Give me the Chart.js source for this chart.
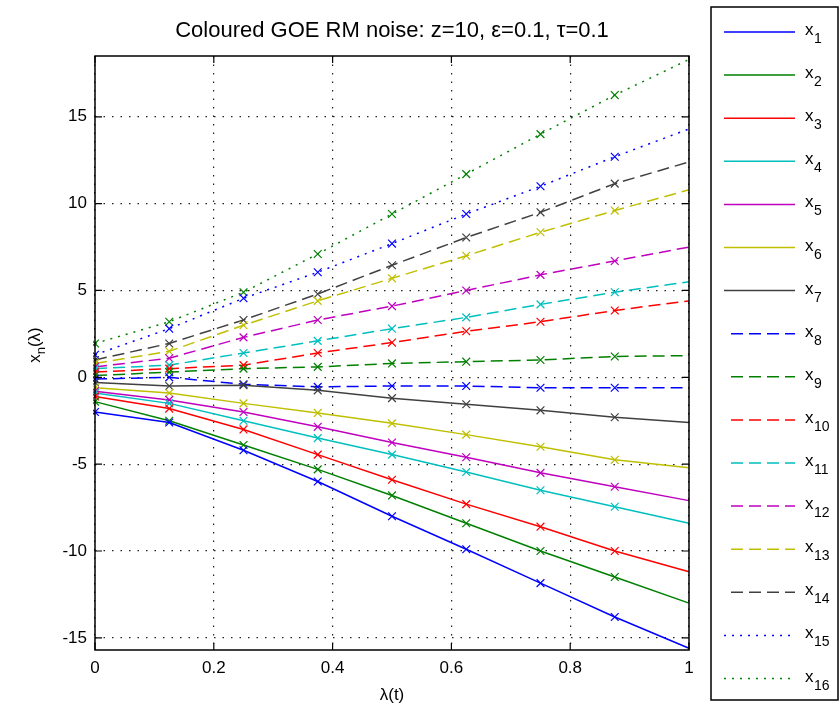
<!DOCTYPE html>
<html lang="en">
<head>
    <meta charset="UTF-8">
    <title>Coloured GOE RM noise</title>
    <script src="https://cdn.jsdelivr.net/npm/chart.js"></script>
    <style>
        html, body { margin: 0; padding: 0; background: #fff; }
        #plot { display: block; }
    </style>
</head>
<body>
    <canvas id="plot" width="840" height="716"></canvas>

    <script>
        // time steps lambda(t), markers sit on all but the last one
        const tSteps = [0, 0.125, 0.25, 0.375, 0.5, 0.625, 0.75, 0.875, 1];

        // eigenvalue paths
        const x1  = [-2.0, -2.6, -4.2, -6.0, -8.0, -9.9, -11.85, -13.8, -15.6];
        const x2  = [-1.4, -2.5, -3.9, -5.3, -6.8, -8.4, -10.0, -11.5, -13.0];
        const x3  = [-1.1, -1.8, -3.0, -4.45, -5.9, -7.3, -8.6, -10.0, -11.2];
        const x4  = [-0.9, -1.5, -2.5, -3.5, -4.45, -5.45, -6.5, -7.45, -8.4];
        const x5  = [-0.8, -1.3, -2.0, -2.85, -3.75, -4.6, -5.5, -6.3, -7.1];
        const x6  = [-0.6, -0.9, -1.5, -2.05, -2.65, -3.3, -4.0, -4.75, -5.2];
        const x7  = [-0.3, -0.5, -0.45, -0.75, -1.2, -1.55, -1.9, -2.3, -2.6];
        const x8  = [-0.1, 0.0, -0.4, -0.55, -0.5, -0.5, -0.6, -0.6, -0.6];
        const x9  = [0.1, 0.3, 0.5, 0.6, 0.8, 0.9, 1.0, 1.2, 1.25];
        const x10 = [0.3, 0.5, 0.7, 1.4, 2.0, 2.65, 3.2, 3.85, 4.4];
        const x11 = [0.5, 0.7, 1.4, 2.1, 2.8, 3.45, 4.2, 4.9, 5.5];
        const x12 = [0.6, 1.1, 2.3, 3.3, 4.1, 5.0, 5.9, 6.7, 7.5];
        const x13 = [0.8, 1.5, 3.0, 4.4, 5.7, 7.0, 8.35, 9.6, 10.8];
        const x14 = [1.0, 1.95, 3.3, 4.8, 6.45, 8.05, 9.5, 11.15, 12.4];
        const x15 = [1.3, 2.8, 4.55, 6.05, 7.7, 9.4, 11.0, 12.7, 14.3];
        const x16 = [1.95, 3.2, 4.9, 7.1, 9.4, 11.7, 14.0, 16.25, 18.3];

        const seriesValues = [x1, x2, x3, x4, x5, x6, x7, x8, x9, x10, x11, x12, x13, x14, x15, x16];
        const seriesNames = seriesValues.map((v, i) => String(i + 1));

        const xTicks = [0, 0.2, 0.4, 0.6, 0.8, 1];
        const yTicks = [-15, -10, -5, 0, 5, 10, 15];

        // matlab colour order, then line style solid / dashed / dotted
        const palette = ['#0000ff', '#008000', '#ff0000', '#00bfbf', '#bf00bf', '#bfbf00', '#404040'];
        function styleFor(i) {
            if (i < 7) return { color: palette[i], dash: [] };
            if (i < 14) return { color: palette[i - 7], dash: [12, 6] };
            return { color: palette[i - 14], dash: [2, 6] };
        }

        const datasets = seriesValues.map((vals, i) => {
            const st = styleFor(i);
            return {
                label: 'x' + seriesNames[i],
                data: tSteps.map((t, k) => ({ x: t, y: vals[k] })),
                borderColor: st.color,
                backgroundColor: st.color,
                borderWidth: 1.5,
                borderDash: st.dash,
                tension: 0,
                fill: false,
                pointStyle: 'crossRot',
                pointRadius: ctx => (ctx.dataIndex < tSteps.length - 1 ? 5.5 : 0),
                pointBorderColor: st.color,
                pointBorderWidth: 1.2,
                clip: 2
            };
        });

        const FONT = '"Liberation Sans", Arial, sans-serif';

        // frame, inner ticks, title, axis labels and the boxed legend
        const matlabFrame = {
            id: 'matlabFrame',
            afterDraw(chart) {
                const ctx = chart.ctx;
                const a = chart.chartArea;
                const sx = chart.scales.x, sy = chart.scales.y;
                ctx.save();
                ctx.strokeStyle = '#000';
                ctx.lineWidth = 1.5;
                ctx.setLineDash([]);
                ctx.strokeRect(a.left, a.top, a.right - a.left, a.bottom - a.top);

                ctx.lineWidth = 1.2;
                ctx.beginPath();
                xTicks.forEach(v => {
                    const px = sx.getPixelForValue(v);
                    ctx.moveTo(px, a.bottom); ctx.lineTo(px, a.bottom - 7);
                    ctx.moveTo(px, a.top); ctx.lineTo(px, a.top + 7);
                });
                yTicks.forEach(v => {
                    const py = sy.getPixelForValue(v);
                    ctx.moveTo(a.left, py); ctx.lineTo(a.left + 7, py);
                    ctx.moveTo(a.right, py); ctx.lineTo(a.right - 7, py);
                });
                ctx.stroke();

                ctx.fillStyle = '#000';
                ctx.textAlign = 'center';
                ctx.textBaseline = 'middle';
                ctx.font = '22px ' + FONT;
                ctx.fillText('Coloured GOE RM noise: z=10, \u03b5=0.1, \u03c4=0.1', (a.left + a.right) / 2, 31);

                // x label
                ctx.font = '17px ' + FONT;
                ctx.fillText('\u03bb(t)', (a.left + a.right) / 2, 695);

                // y label x_n(lambda), rotated
                ctx.save();
                ctx.translate(34, 345);
                ctx.rotate(-Math.PI / 2);
                ctx.textAlign = 'left';
                ctx.textBaseline = 'alphabetic';
                const w1 = ctx.measureText('x').width;
                ctx.font = '13px ' + FONT;
                const w2 = ctx.measureText('n').width;
                ctx.font = '17px ' + FONT;
                const w3 = ctx.measureText('(\u03bb)').width;
                let start = -(w1 + w2 + w3) / 2;
                ctx.fillText('x', start, 6);
                ctx.font = '13px ' + FONT;
                ctx.fillText('n', start + w1, 11);
                ctx.font = '17px ' + FONT;
                ctx.fillText('(\u03bb)', start + w1 + w2, 6);
                ctx.restore();

                // legend box
                const lx = 711, ly = 7, lw = 127, lh = 693;
                ctx.lineWidth = 1.5;
                ctx.strokeRect(lx, ly, lw, lh);
                chart.data.datasets.forEach((ds, i) => {
                    const y = 32 + i * 43.1;
                    ctx.strokeStyle = ds.borderColor;
                    ctx.lineWidth = 1.5;
                    ctx.setLineDash(ds.borderDash);
                    ctx.beginPath();
                    ctx.moveTo(ds.borderDash.length && ds.borderDash[0] > 4 ? 731 : 724, y);
                    ctx.lineTo(795, y);
                    ctx.stroke();
                    ctx.setLineDash([]);
                    ctx.fillStyle = '#000';
                    ctx.textAlign = 'left';
                    ctx.textBaseline = 'alphabetic';
                    ctx.font = '17px ' + FONT;
                    ctx.fillText('x', 805, y + 3);
                    ctx.font = '14px ' + FONT;
                    ctx.fillText(seriesNames[i], 814, y + 11);
                });
                ctx.restore();
            }
        };

        new Chart(document.getElementById('plot').getContext('2d'), {
            type: 'line',
            data: { datasets },
            options: {
                responsive: false,
                animation: false,
                devicePixelRatio: 1,
                layout: { padding: { left: 0, top: 56, right: 151, bottom: 0 } },
                plugins: {
                    legend: { display: false },
                    tooltip: { enabled: false },
                    title: { display: false }
                },
                scales: {
                    x: {
                        type: 'linear',
                        min: 0,
                        max: 1,
                        afterBuildTicks: s => { s.ticks = xTicks.map(v => ({ value: v })); },
                        afterFit: s => { s.height = 66; },
                        ticks: {
                            color: '#000',
                            font: { size: 17, family: FONT },
                            padding: 8,
                            maxRotation: 0,
                            autoSkip: false,
                            callback: v => String(v)
                        },
                        grid: { color: '#222', lineWidth: 1.2, drawTicks: false },
                        border: { display: false, dash: [1.5, 7] }
                    },
                    y: {
                        type: 'linear',
                        min: -15.7,
                        max: 18.5,
                        afterBuildTicks: s => { s.ticks = yTicks.map(v => ({ value: v })); },
                        afterFit: s => { s.width = 95; },
                        ticks: {
                            color: '#000',
                            font: { size: 17, family: FONT },
                            padding: 8,
                            callback: v => String(v)
                        },
                        grid: { color: '#222', lineWidth: 1.2, drawTicks: false },
                        border: { display: false, dash: [1.5, 7] }
                    }
                }
            },
            plugins: [matlabFrame]
        });
    </script>
</body>
</html>
